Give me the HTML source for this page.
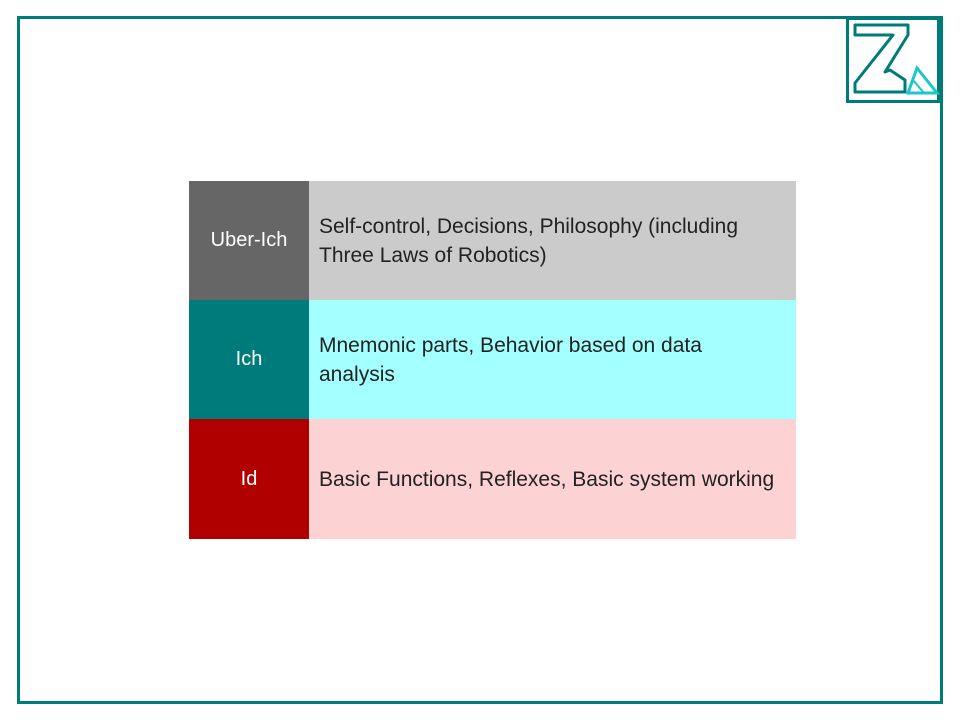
<!DOCTYPE html>
<html><head><meta charset="utf-8"><style>
body{margin:0;width:960px;height:720px;background:#fff;position:relative;font-family:"Liberation Sans",sans-serif;overflow:hidden}
.frame{position:absolute;left:17px;top:16px;width:920px;height:682px;border:3px solid #007b7b}
.row{position:absolute;left:189px;width:607px;height:119px}
.l{position:absolute;left:0;top:0;width:120px;height:119px;color:#fff;font-size:20px;display:flex;align-items:center;justify-content:center}
.r{position:absolute;left:120px;top:0;width:487px;height:119px;color:#222;font-size:21px;line-height:29px;display:flex;align-items:center;padding-left:10px;box-sizing:border-box;white-space:nowrap}
</style></head><body>
<div class="frame"></div>
<svg style="position:absolute;left:0;top:0" width="960" height="720">
<rect x="847.5" y="18.5" width="91" height="83" fill="none" stroke="#007b7b" stroke-width="3"/>
<polygon points="855,25 908,25 908,35 885,72 890,70 905,80 905,92 855,92 855,83 893,35 855,35" fill="none" stroke="#007b7b" stroke-width="3" stroke-linejoin="round"/>
<polygon points="908,93 917,68 937,93" fill="none" stroke="#19c8c8" stroke-width="3"/>
<line x1="913" y1="80" x2="924" y2="93" stroke="#19c8c8" stroke-width="2"/>
</svg>
<div class="row" style="top:181px"><div class="l" style="background:#666">Uber-Ich</div><div class="r" style="background:#cbcbcb"><div>Self-control, Decisions, Philosophy (including<br>Three Laws of Robotics)</div></div></div>
<div class="row" style="top:300px"><div class="l" style="background:#007b7b">Ich</div><div class="r" style="background:#a4ffff"><div>Mnemonic parts, Behavior based on data<br>analysis</div></div></div>
<div class="row" style="top:419px;height:120px"><div class="l" style="background:#b00000;height:120px">Id</div><div class="r" style="background:#fdd2d2;height:120px">Basic Functions, Reflexes, Basic system working</div></div>
</body></html>
